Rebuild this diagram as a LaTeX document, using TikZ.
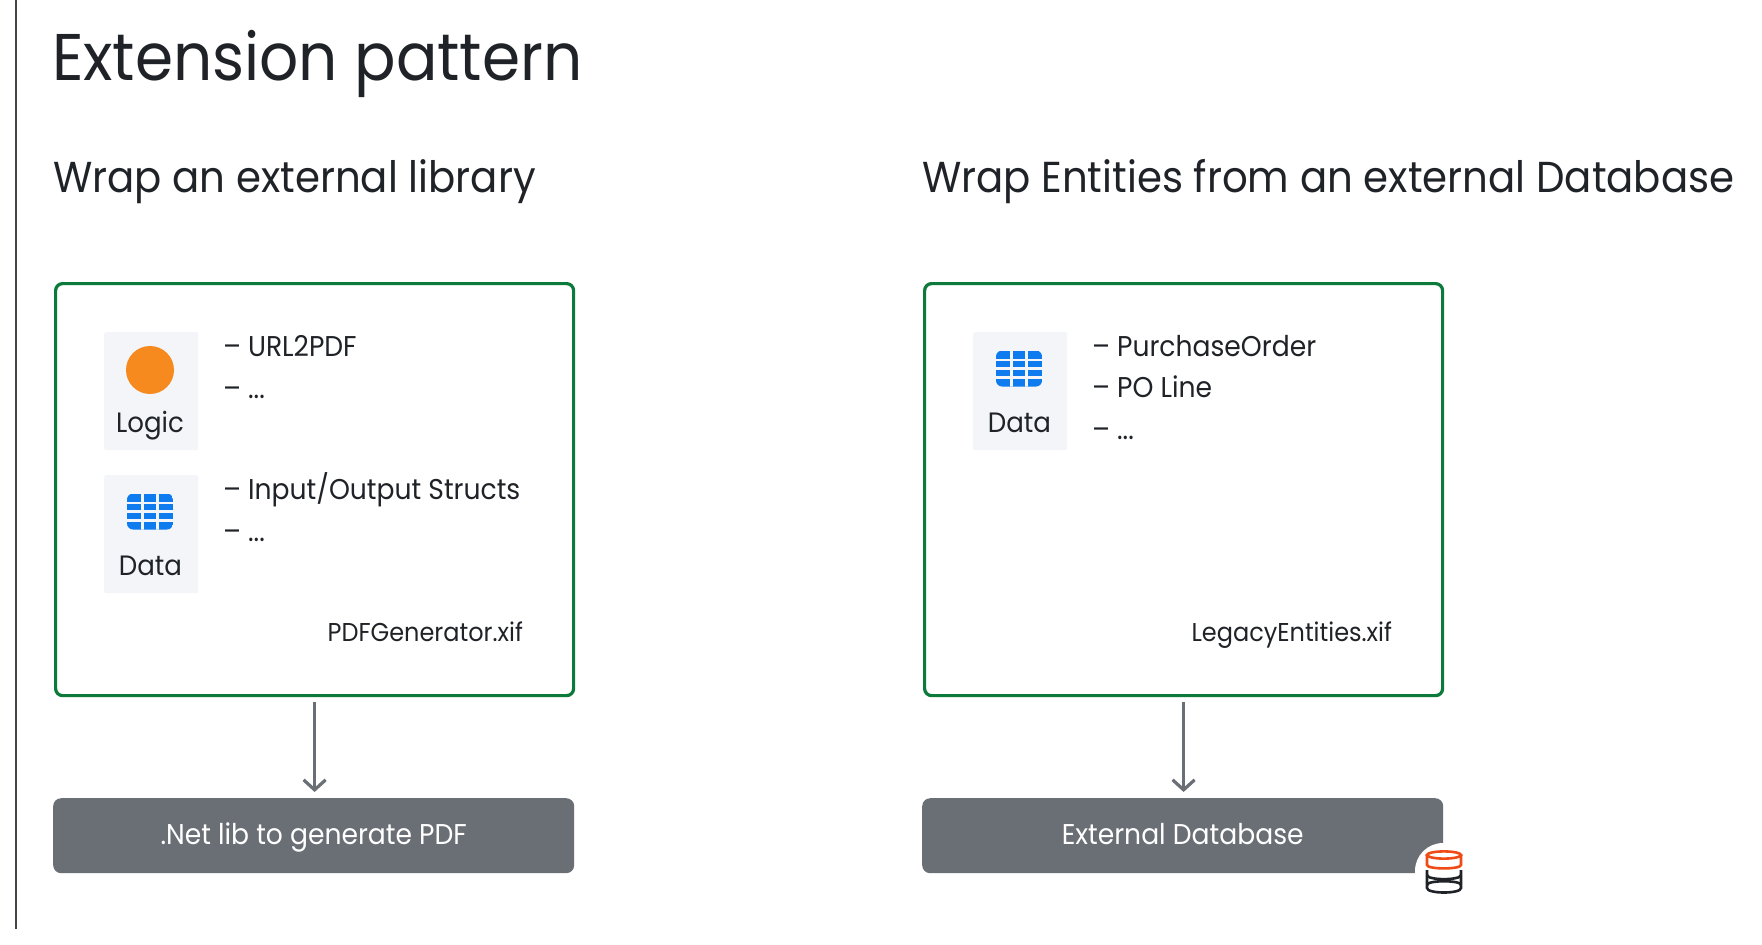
\documentclass[tikz,border=0pt]{standalone}
\usepackage{fontspec}
\setmainfont{Poppins}[FakeStretch=0.93]
\definecolor{ink}{HTML}{1F2328}
\definecolor{grn}{HTML}{0B7A3B}
\definecolor{slate}{HTML}{6A6F76}
\definecolor{tile}{HTML}{F3F5F9}
\definecolor{orng}{HTML}{F78A1F}
\definecolor{blu}{HTML}{0E7CEE}
\definecolor{dbred}{HTML}{EE4B16}
\usetikzlibrary{arrows.meta}
\tikzset{
  x=1pt,y=-1pt,
  txt/.style={anchor=base west,inner sep=0pt,outer sep=0pt,text=ink},
  ttl/.style={txt,font=\fontsize{66}{66}\selectfont},
  sub/.style={txt,font=\fontsize{43.3}{44}\selectfont},
  body/.style={txt,font=\fontsize{28.6}{29}\selectfont},
  file/.style={txt,anchor=base east,font=\fontsize{25.8}{26}\selectfont},
  lbl/.style={anchor=base,inner sep=0pt,text=ink,font=\fontsize{28}{28}\selectfont},
  modbox/.style={draw=grn,line width=3.2pt,rounded corners=7pt,minimum width=518pt,minimum height=412pt,inner sep=0pt,anchor=north west},
  darkbox/.style={fill=slate,rounded corners=8pt,minimum width=521pt,minimum height=75pt,inner sep=0pt,anchor=north west,text=white,text height=20pt,text depth=2pt,font=\fontsize{28.6}{29}\selectfont},
  tilebox/.style={fill=tile,rounded corners=2pt,minimum width=94pt,inner sep=0pt,anchor=north west},
  conn/.style={draw=slate,line width=3.2pt,shorten >=6pt,-{Straight Barb[length=10pt,width=22pt,line width=3.2pt]}},
}
\newcommand{\tblicon}[2]{%
  \begin{scope}[shift={(#1,#2)}]
    \begin{scope}
    \clip[rounded corners=6pt] (-23,-18) rectangle (23,18);
    \fill[blu] (-23,-18) rectangle (23,18);
    \foreach \yy in {-8.5,0.2,9}{\fill[tile] (-23,\yy-1.3) rectangle (23,\yy+1.3);}
    \foreach \xx in {-7.5,7.5}{\fill[tile] (\xx-1.3,-18) rectangle (\xx+1.3,18);}
    \end{scope}
  \end{scope}}
\begin{document}
\begin{tikzpicture}
\useasboundingbox (0,0) rectangle (1762,945);
\fill[white] (0,0) rectangle (1762,945);
\coordinate (rt) at (16,0);
\coordinate (rb) at (16,929);
\draw[ink!85,line width=1.6pt] (rt) -- (rb);

\node[ttl] (title) at (52,80) {Extension pattern};
\node[sub] (s1) at (53,192) {Wrap an external library};
\node[sub] (s2) at (922,192) {Wrap Entities from an external Database};

\node[modbox] (m1) at (54,282) {};
\node[modbox] (m2) at (923,282) {};
\node[darkbox] (d1) at (53,798) {.Net lib to generate PDF};
\node[darkbox] (d2) at (922,798) {External Database};

\draw[conn] (m1.south|-0,702) coordinate (a1) -- (m1.south|-d1.north);
\draw[conn] (m2.south|-0,702) coordinate (a2) -- (m2.south|-d2.north);

% left module
\node[tilebox,minimum height=118pt] (t1) at (104,332) {};
\fill[orng] (150,370) circle (24);
\node[lbl] (l1) at (150,432) {Logic};
\node[tilebox,minimum height=118pt] (t2) at (104,475) {};
\tblicon{150}{511.5}
\node[lbl] (l2) at (150.5,575) {Data};
\node[body] (b1) at (223,356) {– URL2PDF};
\node[body] (b2) at (223,398) {– ...};
\node[body] (b3) at (223,499) {– Input/Output Structs};
\node[body] (b4) at (223,541) {– ...};
\node[file] (f1) at (523,641) {PDFGenerator.xif};

% right module
\node[tilebox,minimum height=118pt] (t3) at (973,332) {};
\tblicon{1019}{368.5}
\node[lbl] (l3) at (1019.5,432) {Data};
\node[body] (b5) at (1092,356) {– PurchaseOrder};
\node[body] (b6) at (1092,397) {– PO Line};
\node[body] (b7) at (1092,439) {– ...};
\node[file] (f2) at (1392,641) {LegacyEntities.xif};

% database badge
\fill[white] (1443,871) circle (28);
\begin{scope}[line width=2.6pt]
  \draw[ink] (1427,870) -- (1427,888) .. controls (1427,894) and (1461,894) .. (1461,888) -- (1461,870);
  \draw[ink] (1427,875) .. controls (1427,880.5) and (1461,880.5) .. (1461,875);
  \draw[ink] (1427,885) .. controls (1427,880) and (1461,880) .. (1461,885);
  \draw[dbred,fill=white] (1427,855) -- (1427,865) .. controls (1427,869.5) and (1461,869.5) .. (1461,865) -- (1461,855);
  \draw[dbred,fill=white] (1444,855) ellipse (17 and 3.6);
\end{scope}
\end{tikzpicture}
\end{document}
